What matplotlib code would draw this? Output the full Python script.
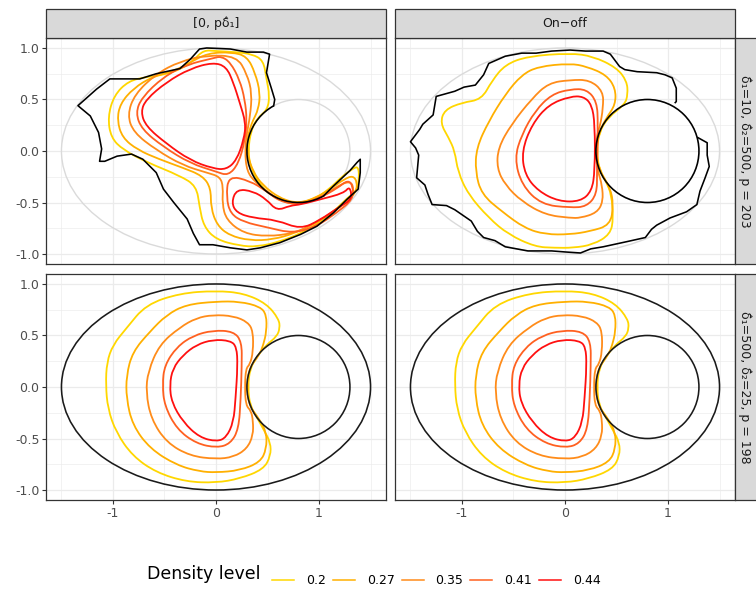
import numpy as np
import matplotlib
matplotlib.use("Agg")
import matplotlib.pyplot as plt
from matplotlib.patches import Ellipse, Circle, Arc, Rectangle, PathPatch
from matplotlib.path import Path
from matplotlib.lines import Line2D

plt.rcParams['axes.unicode_minus'] = False

# ---------------- data ----------------
levels = ['0.2', '0.27', '0.35', '0.41', '0.44']
level_colors = ['#FFD700', '#FFB000', '#FF8C1A', '#FF6020', '#FF1010']

col_labels = ['[0, p\u03b4\u0302\u2081]', 'On\u2212off']
row_labels = ['\u03b4\u0302\u2081=10, \u03b4\u0302\u2082=500, p = 203',
              '\u03b4\u0302\u2081=500, \u03b4\u0302\u2082=25, p = 198']

xticks = [-1, 0, 1]
xticklabels = ['-1', '0', '1']
yticks = [-1.0, -0.5, 0.0, 0.5, 1.0]
yticklabels = ['-1.0', '-0.5', '0.0', '0.5', '1.0']

# top-left panel: contours [0, p delta1]
tl_020 = [(0.50, 0.40), (0.52, 0.54), (0.49, 0.70), (0.46, 0.88), (0.35, 0.94), (0.20, 0.96),
          (0.0, 0.97), (-0.12, 0.98), (-0.22, 0.88), (-0.33, 0.80), (-0.50, 0.74), (-0.67, 0.72),
          (-0.85, 0.68), (-0.99, 0.54), (-1.05, 0.33), (-1.02, 0.13), (-0.90, 0.01), (-0.67, -0.11),
          (-0.35, -0.24), (-0.19, -0.34), (-0.16, -0.54), (-0.12, -0.73), (0.0, -0.86), (0.23, -0.92),
          (0.40, -0.93), (0.62, -0.88), (0.82, -0.80), (0.98, -0.71), (1.14, -0.59), (1.27, -0.46),
          (1.37, -0.38), (1.39, -0.25), (1.38, -0.15), (1.33, -0.17), (1.22, -0.25), (1.10, -0.37),
          (0.95, -0.47), (0.78, -0.51), (0.60, -0.47), (0.45, -0.36), (0.34, -0.18), (0.31, 0.0),
          (0.34, 0.20), (0.40, 0.32), (0.50, 0.40)]
tl_027 = [(0.36, 0.30), (0.41, 0.40), (0.43, 0.56), (0.38, 0.76), (0.30, 0.92), (0.15, 0.96),
          (-0.08, 0.95), (-0.25, 0.86), (-0.40, 0.78), (-0.62, 0.72), (-0.80, 0.61), (-0.93, 0.46),
          (-0.96, 0.30), (-0.91, 0.13), (-0.76, 0.01), (-0.55, -0.08), (-0.33, -0.16), (-0.13, -0.24),
          (-0.05, -0.36), (-0.05, -0.55), (0.01, -0.72), (0.13, -0.82), (0.33, -0.87), (0.55, -0.86),
          (0.76, -0.80), (0.95, -0.71), (1.13, -0.60), (1.27, -0.49), (1.36, -0.40), (1.37, -0.30),
          (1.33, -0.24), (1.25, -0.27), (1.12, -0.36), (0.98, -0.45), (0.80, -0.51), (0.62, -0.46),
          (0.45, -0.33), (0.36, -0.20), (0.31, -0.05), (0.30, 0.10), (0.33, 0.22), (0.36, 0.30)]
tl_035 = [(0.30, 0.18), (0.33, 0.33), (0.35, 0.56), (0.30, 0.75), (0.20, 0.92), (-0.09, 0.93),
          (-0.35, 0.87), (-0.58, 0.75), (-0.79, 0.55), (-0.86, 0.35), (-0.80, 0.18), (-0.58, 0.01),
          (-0.32, -0.14), (-0.09, -0.21), (0.04, -0.25), (0.07, -0.35), (0.06, -0.51), (0.10, -0.67),
          (0.27, -0.80), (0.50, -0.83), (0.75, -0.80), (0.95, -0.71), (1.15, -0.58), (1.30, -0.47),
          (1.34, -0.36), (1.30, -0.29), (1.18, -0.34), (1.02, -0.45), (0.82, -0.52), (0.66, -0.50),
          (0.50, -0.40), (0.38, -0.30), (0.30, -0.20), (0.28, 0.0), (0.30, 0.18)]
tl_041a = [(-0.03, 0.90), (-0.28, 0.84), (-0.51, 0.72), (-0.72, 0.52), (-0.78, 0.37), (-0.72, 0.21),
           (-0.51, 0.04), (-0.25, -0.12), (0.0, -0.20), (0.12, -0.24), (0.22, -0.12), (0.28, 0.10),
           (0.30, 0.30), (0.28, 0.50), (0.23, 0.69), (0.14, 0.86), (0.05, 0.92), (-0.03, 0.90)]
tl_041b = [(0.12, -0.24), (0.33, -0.29), (0.49, -0.39), (0.62, -0.49), (0.80, -0.52), (1.00, -0.46),
           (1.18, -0.36), (1.28, -0.28), (1.33, -0.34), (1.33, -0.47), (1.17, -0.60), (0.98, -0.73),
           (0.75, -0.80), (0.49, -0.74), (0.27, -0.69), (0.14, -0.61), (0.10, -0.45), (0.12, -0.24)]
tl_044a = [(-0.03, 0.86), (-0.25, 0.80), (-0.48, 0.67), (-0.68, 0.50), (-0.73, 0.38), (-0.68, 0.24),
           (-0.48, 0.07), (-0.25, -0.09), (-0.03, -0.17), (0.10, -0.18), (0.20, -0.09), (0.27, 0.11),
           (0.29, 0.27), (0.23, 0.47), (0.17, 0.66), (0.10, 0.82), (-0.03, 0.86)]
tl_044b = [(0.20, -0.37), (0.36, -0.39), (0.49, -0.47), (0.59, -0.58), (0.72, -0.53), (0.82, -0.52),
           (1.01, -0.47), (1.24, -0.41), (1.30, -0.34), (1.32, -0.47), (1.20, -0.54), (1.01, -0.67),
           (0.82, -0.76), (0.59, -0.67), (0.36, -0.65), (0.20, -0.60), (0.15, -0.50), (0.20, -0.37)]
tl_edge = [(0.56, 0.44), (0.57, 0.50), (0.54, 0.60), (0.49, 0.76), (0.52, 0.94), (0.46, 0.96),
           (0.30, 0.96), (0.14, 0.99), (-0.09, 1.0), (-0.16, 0.99), (-0.25, 0.89), (-0.35, 0.80),
           (-0.58, 0.75), (-0.74, 0.70), (-1.03, 0.70), (-1.16, 0.60), (-1.34, 0.44), (-1.22, 0.34),
           (-1.14, 0.18), (-1.11, 0.02), (-1.13, -0.10), (-1.08, -0.10), (-0.96, -0.05), (-0.82, -0.03),
           (-0.71, -0.08), (-0.58, -0.21), (-0.51, -0.37), (-0.41, -0.50), (-0.28, -0.66), (-0.22, -0.80),
           (-0.16, -0.91), (-0.03, -0.91), (0.14, -0.94), (0.30, -0.96), (0.43, -0.94), (0.62, -0.89),
           (0.82, -0.81), (0.98, -0.73), (1.14, -0.60), (1.27, -0.47), (1.38, -0.37), (1.40, -0.21),
           (1.40, -0.08), (1.37, -0.11), (1.30, -0.19), (1.14, -0.34), (1.05, -0.43)]

# top-right panel: contours On-off
tr_020 = [(0.58, 0.45), (0.61, 0.55), (0.60, 0.68), (0.50, 0.81), (0.27, 0.92), (0.05, 0.95),
          (-0.36, 0.92), (-0.58, 0.84), (-0.71, 0.68), (-0.81, 0.50), (-1.00, 0.47), (-1.17, 0.40),
          (-1.21, 0.27), (-1.13, 0.13), (-1.07, 0.0), (-1.04, -0.20), (-0.94, -0.42), (-0.74, -0.65),
          (-0.55, -0.81), (-0.29, -0.93), (-0.10, -0.94), (0.08, -0.94), (0.27, -0.91), (0.44, -0.81),
          (0.47, -0.65), (0.45, -0.42), (0.40, -0.30), (0.33, -0.18), (0.31, 0.0), (0.33, 0.18),
          (0.42, 0.33), (0.58, 0.45)]
tr_027 = [(0.40, 0.32), (0.49, 0.45), (0.49, 0.61), (0.40, 0.74), (0.21, 0.82), (0.05, 0.85),
          (-0.26, 0.82), (-0.42, 0.74), (-0.58, 0.55), (-0.74, 0.29), (-0.86, 0.03), (-0.87, -0.20),
          (-0.81, -0.42), (-0.61, -0.59), (-0.39, -0.75), (-0.19, -0.81), (0.05, -0.81), (0.24, -0.78),
          (0.44, -0.72), (0.47, -0.52), (0.44, -0.36), (0.33, -0.18), (0.30, 0.0), (0.33, 0.18),
          (0.40, 0.32)]
tr_035 = [(0.34, 0.24), (0.37, 0.42), (0.37, 0.58), (0.24, 0.69), (0.05, 0.69), (-0.16, 0.66),
          (-0.32, 0.51), (-0.52, 0.26), (-0.65, 0.03), (-0.66, -0.17), (-0.58, -0.33), (-0.42, -0.49),
          (-0.19, -0.62), (0.05, -0.65), (0.15, -0.65), (0.31, -0.60), (0.37, -0.49), (0.36, -0.33),
          (0.32, -0.20), (0.29, 0.0), (0.32, 0.20), (0.34, 0.24)]
tr_041 = [(0.05, 0.60), (0.21, 0.60), (0.31, 0.48), (0.32, 0.26), (0.31, -0.20), (0.31, -0.42),
          (0.21, -0.54), (0.05, -0.55), (-0.23, -0.52), (-0.42, -0.33), (-0.49, -0.07), (-0.42, 0.16),
          (-0.29, 0.39), (-0.13, 0.55), (0.05, 0.60)]
tr_044 = [(0.05, 0.53), (0.18, 0.53), (0.26, 0.45), (0.29, 0.26), (0.29, -0.19), (0.26, -0.39),
          (0.15, -0.49), (-0.06, -0.49), (-0.26, -0.39), (-0.39, -0.23), (-0.42, 0.0), (-0.32, 0.26),
          (-0.16, 0.45), (0.05, 0.53)]
tr_edge = [(1.07, 0.47), (1.08, 0.48), (1.08, 0.61), (1.04, 0.71), (0.97, 0.74), (0.89, 0.76),
           (0.70, 0.77), (0.58, 0.79), (0.53, 0.82), (0.44, 0.94), (0.37, 0.97), (0.20, 0.97),
           (0.05, 0.98), (-0.13, 0.97), (-0.28, 0.95), (-0.42, 0.95), (-0.58, 0.92), (-0.74, 0.85),
           (-0.79, 0.74), (-0.87, 0.64), (-0.98, 0.62), (-1.07, 0.58), (-1.25, 0.53), (-1.28, 0.35),
           (-1.38, 0.26), (-1.41, 0.21), (-1.50, 0.09), (-1.45, 0.03), (-1.42, -0.04), (-1.43, -0.15),
           (-1.44, -0.26), (-1.36, -0.33), (-1.33, -0.42), (-1.29, -0.52), (-1.15, -0.53), (-1.07, -0.57),
           (-0.91, -0.68), (-0.85, -0.78), (-0.79, -0.84), (-0.68, -0.87), (-0.58, -0.93), (-0.47, -0.95),
           (-0.36, -0.97), (-0.13, -0.97), (0.0, -0.98), (0.15, -0.99), (0.25, -0.95), (0.37, -0.93),
           (0.60, -0.88), (0.78, -0.84), (0.84, -0.76), (0.89, -0.72), (1.02, -0.65), (1.18, -0.59),
           (1.28, -0.52), (1.31, -0.39), (1.36, -0.26), (1.40, -0.15), (1.38, -0.04), (1.38, 0.08),
           (1.29, 0.13)]

# bottom row (both panels look the same)
b_020 = [(0.40, 0.30), (0.49, 0.41), (0.59, 0.49), (0.62, 0.57), (0.61, 0.66), (0.49, 0.81),
         (0.27, 0.91), (0.0, 0.935), (-0.35, 0.91), (-0.68, 0.80), (-0.87, 0.57), (-1.0, 0.41),
         (-1.06, 0.24), (-1.07, 0.02), (-1.05, -0.21), (-0.97, -0.44), (-0.81, -0.67), (-0.58, -0.83),
         (-0.29, -0.92), (0.0, -0.93), (0.23, -0.89), (0.46, -0.80), (0.53, -0.67), (0.53, -0.54),
         (0.46, -0.41), (0.40, -0.30), (0.33, -0.18), (0.31, 0.0), (0.33, 0.18), (0.40, 0.30)]
b_027 = [(0.42, 0.31), (0.46, 0.41), (0.49, 0.54), (0.49, 0.70), (0.43, 0.78), (0.23, 0.83),
         (0.0, 0.83), (-0.29, 0.80), (-0.48, 0.70), (-0.64, 0.54), (-0.81, 0.34), (-0.87, 0.11),
         (-0.87, -0.11), (-0.81, -0.37), (-0.64, -0.60), (-0.38, -0.76), (-0.16, -0.82), (0.0, -0.83),
         (0.23, -0.81), (0.43, -0.73), (0.49, -0.60), (0.49, -0.44), (0.42, -0.31), (0.32, -0.18),
         (0.30, 0.0), (0.32, 0.18), (0.42, 0.31)]
b_035 = [(0.33, 0.22), (0.36, 0.34), (0.36, 0.54), (0.31, 0.63), (0.17, 0.69), (-0.03, 0.70),
         (-0.19, 0.67), (-0.35, 0.58), (-0.55, 0.41), (-0.66, 0.15), (-0.68, -0.05), (-0.63, -0.31),
         (-0.48, -0.54), (-0.25, -0.67), (0.0, -0.70), (0.17, -0.68), (0.30, -0.60), (0.36, -0.47),
         (0.36, -0.33), (0.34, -0.23), (0.29, -0.18), (0.28, 0.0), (0.29, 0.18), (0.33, 0.22)]
b_041 = [(-0.03, 0.55), (0.17, 0.54), (0.25, 0.44), (0.25, 0.21), (0.24, -0.11), (0.22, -0.41),
         (0.14, -0.55), (0.01, -0.59), (-0.19, -0.55), (-0.38, -0.41), (-0.50, -0.18), (-0.52, 0.02),
         (-0.50, 0.21), (-0.38, 0.39), (-0.22, 0.50), (-0.03, 0.55)]
b_044 = [(-0.03, 0.46), (0.14, 0.45), (0.20, 0.39), (0.21, 0.21), (0.19, -0.11), (0.17, -0.34),
         (0.10, -0.49), (0.01, -0.53), (-0.16, -0.49), (-0.32, -0.34), (-0.43, -0.15), (-0.45, 0.02),
         (-0.42, 0.18), (-0.32, 0.31), (-0.19, 0.41), (-0.03, 0.46)]

# which curves go in which panel, per level index
panel_curves = {
    (0, 0): [(0, tl_020), (1, tl_027), (2, tl_035), (3, tl_041a), (3, tl_041b), (4, tl_044a), (4, tl_044b)],
    (0, 1): [(0, tr_020), (1, tr_027), (2, tr_035), (3, tr_041), (4, tr_044)],
    (1, 0): [(0, b_020), (1, b_027), (2, b_035), (3, b_041), (4, b_044)],
    (1, 1): [(0, b_020), (1, b_027), (2, b_035), (3, b_041), (4, b_044)],
}


def smooth_path(pts):
    # quadratic bezier through the read points (points act as control points)
    p = np.asarray(pts, dtype=float)
    closed = np.allclose(p[0], p[-1])
    if closed:
        p = p[:-1]
        n = len(p)
        verts = [(p[-1] + p[0]) / 2]
        codes = [Path.MOVETO]
        for i in range(n):
            verts += [p[i], (p[i] + p[(i + 1) % n]) / 2]
            codes += [Path.CURVE3, Path.CURVE3]
    else:
        n = len(p)
        verts = [p[0]]
        codes = [Path.MOVETO]
        for i in range(1, n - 1):
            end = p[i + 1] if i == n - 2 else (p[i] + p[i + 1]) / 2
            verts += [p[i], end]
            codes += [Path.CURVE3, Path.CURVE3]
    return Path(np.array(verts), codes)


# ---------------- figure ----------------
W, H = 756, 589
fig = plt.figure(figsize=(W / 100, H / 100), dpi=100)

col_x = [46, 395]
row_y = [38, 274]
pw, ph = 340, 226


def px_rect(left, top, w, h):
    return [left / W, 1 - (top + h) / H, w / W, h / H]


grid_col = '#EBEBEB'
text_col = '#4D4D4D'

for r in range(2):
    for c in range(2):
        ax = fig.add_axes(px_rect(col_x[c], row_y[r], pw, ph))
        ax.set_xlim(-1.65, 1.65)
        ax.set_ylim(-1.097, 1.097)
        ax.set_facecolor('white')
        for v in [-1.5, -0.5, 0.5, 1.5]:
            ax.axvline(v, color=grid_col, lw=0.45, zorder=0)
        for v in [-0.75, -0.25, 0.25, 0.75]:
            ax.axhline(v, color=grid_col, lw=0.45, zorder=0)
        for v in xticks:
            ax.axvline(v, color=grid_col, lw=0.9, zorder=0)
        for v in yticks:
            ax.axhline(v, color=grid_col, lw=0.9, zorder=0)

        # domain outline
        if r == 0:
            ax.add_patch(Ellipse((0, 0), 3.0, 2.0, fill=False, ec='#DADADA', lw=1.0, zorder=1))
            ax.add_patch(Circle((0.8, 0), 0.5, fill=False, ec='#DADADA', lw=1.0, zorder=1))
        else:
            ax.add_patch(Ellipse((0, 0), 3.0, 2.0, fill=False, ec='#1A1A1A', lw=1.15, zorder=4))
            ax.add_patch(Circle((0.8, 0), 0.5, fill=False, ec='#1A1A1A', lw=1.15, zorder=4))

        for li, pts in panel_curves[(r, c)]:
            ax.add_patch(PathPatch(smooth_path(pts), fill=False, ec=level_colors[li], lw=1.3,
                                   joinstyle='round', zorder=2 + li * 0.1))

        if (r, c) == (0, 0):
            ax.plot([p[0] for p in tl_edge], [p[1] for p in tl_edge], color='black', lw=1.15, zorder=4)
            ax.add_patch(Arc((0.8, 0), 1.0, 1.0, theta1=118.6, theta2=300, ec='black', lw=1.15, zorder=4))
        if (r, c) == (0, 1):
            ax.plot([p[0] for p in tr_edge], [p[1] for p in tr_edge], color='black', lw=1.15, zorder=4)
            ax.add_patch(Circle((0.8, 0), 0.5, fill=False, ec='black', lw=1.15, zorder=4))

        for s in ax.spines.values():
            s.set_color('#333333')
            s.set_linewidth(0.9)
        ax.set_xticks(xticks)
        ax.set_yticks(yticks)
        ax.tick_params(length=2.75, width=0.8, color='#333333', labelcolor=text_col,
                       labelsize=9, pad=2)
        if c == 0:
            ax.set_yticklabels(yticklabels)
        else:
            ax.tick_params(axis='y', length=0, labelleft=False)
        if r == 1:
            ax.set_xticklabels(xticklabels)
        else:
            ax.tick_params(axis='x', length=0, labelbottom=False)

# strips
for c in range(2):
    fig.patches.append(Rectangle((col_x[c] / W, 1 - 38 / H), pw / W, 29 / H, transform=fig.transFigure,
                                 fc='#D9D9D9', ec='#333333', lw=0.9, figure=fig))
    fig.text((col_x[c] + pw / 2) / W, 1 - 23.5 / H, col_labels[c], ha='center', va='center',
             fontsize=9, color='#1A1A1A')
for r in range(2):
    fig.patches.append(Rectangle((735 / W, 1 - (row_y[r] + ph) / H), 40 / W, ph / H, transform=fig.transFigure,
                                 fc='#D9D9D9', ec='#333333', lw=0.9, figure=fig))
    fig.text(745 / W, 1 - (row_y[r] + ph / 2) / H, row_labels[r], ha='center', va='center',
             rotation=-90, fontsize=9, color='#1A1A1A')

# legend
fig.text(147 / W, 1 - 574 / H, 'Density level', fontsize=12.5, va='center', ha='left')
handles = [Line2D([], [], color=col, lw=1.1) for col in level_colors]
fig.legend(handles, levels, loc='center left', bbox_to_anchor=(272 / W, 1 - 581 / H), ncol=5,
           frameon=False, fontsize=9, handlelength=1.76, handletextpad=0.95, columnspacing=0.56,
           borderaxespad=0, borderpad=0)

fig.savefig('out.png', dpi=100)
